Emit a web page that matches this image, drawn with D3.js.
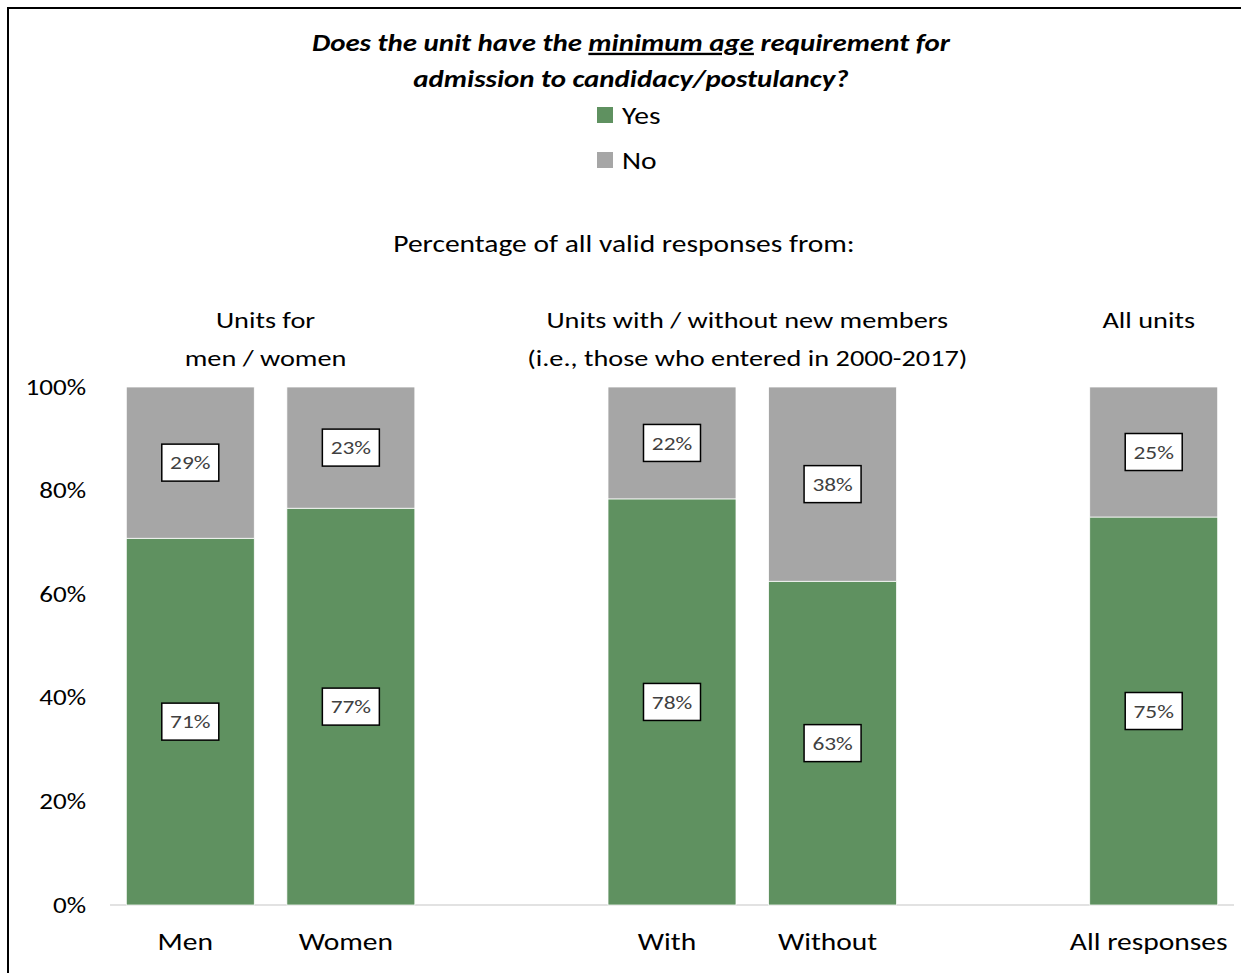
<!DOCTYPE html>
<html>
<head>
<meta charset="utf-8">
<script src="https://cdn.jsdelivr.net/npm/d3@7"></script>
<style>
  body { margin: 0; background: #fff; }
  text { font-family: Carlito, Calibri, "Open Sans", sans-serif; }
</style>
</head>
<body>
<div id="canvas"></div>
<script>
// data
const categories = ["Men", "Women", "With", "Without", "All responses"];
const yesValues = [70.8, 76.6, 78.4, 62.5, 74.9];
const noValues = [29.2, 23.4, 21.6, 37.5, 25.1];
const groupNames = [["Units for", "men / women"], ["Units with / without new members", "(i.e., those who entered in 2000-2017)"], ["All units"]];
const groupMembers = [["Men", "Women"], ["With", "Without"], ["All responses"]];
const seriesNames = ["Yes", "No"];
const yTicks = [0, 20, 40, 60, 80, 100];

const colors = { Yes: "#5f9160", No: "#a6a6a6" };

// the original chart is stretched sideways, text included
const SX = 1.23;

const width = 1241;
const height = 973;
const margin = { top: 387, left: 110, bottom: 68, right: 7 };
const iwidth = width - margin.left - margin.right;
const iheight = height - margin.top - margin.bottom;

const svg = d3.select("#canvas").append("svg")
    .attr("width", width)
    .attr("height", height);

// put a text at (px, py) stretched by SX
function wideText(parent, px, py, size) {
    return parent.append("g")
        .attr("transform", `translate(${px},${py}) scale(${SX},1)`)
        .append("text")
        .attr("font-size", size);
}

// frame (runs off the right/bottom edge in the original)
svg.append("rect")
    .attr("x", 8).attr("y", 8)
    .attr("width", 1300).attr("height", 1100)
    .attr("fill", "none")
    .attr("stroke", "#000")
    .attr("stroke-width", 2);

// slots: groups separated by an empty slot
let slots = [];
groupMembers.forEach((m, i) => {
    if (i > 0) slots.push("gap" + i);
    slots = slots.concat(m);
});

const x = d3.scaleBand()
    .domain(slots)
    .range([0, iwidth])
    .paddingInner(0.203)
    .paddingOuter(0.1015);

const y = d3.scaleLinear()
    .domain([0, 100])
    .range([iheight, 0]);

const g = svg.append("g").attr("transform", `translate(${margin.left},${margin.top})`);

const rows = categories.map((c, i) => ({ name: c, Yes: yesValues[i], No: noValues[i] }));
const stacked = d3.stack().keys(seriesNames)(rows);

// baseline
g.append("line")
    .attr("x1", 0).attr("x2", iwidth)
    .attr("y1", y(0)).attr("y2", y(0))
    .attr("stroke", "#d9d9d9")
    .attr("stroke-width", 1.5);

const layers = g.selectAll(".layer").data(stacked).enter().append("g")
    .attr("class", "layer")
    .attr("fill", d => colors[d.key]);

layers.selectAll("rect").data(d => d).enter().append("rect")
    .attr("x", d => x(d.data.name))
    .attr("y", d => y(d[1]))
    .attr("width", x.bandwidth())
    .attr("height", d => y(d[0]) - y(d[1]))
    .attr("stroke", "#ffffff")
    .attr("stroke-width", 0.75);

// data labels
stacked.forEach(layer => {
    layer.forEach(d => {
        const cx = x(d.data.name) + x.bandwidth() / 2;
        const cy = (y(d[0]) + y(d[1])) / 2;
        g.append("rect")
            .attr("x", cx - 28.5).attr("y", cy - 18.5)
            .attr("width", 57).attr("height", 37)
            .attr("fill", "#fff")
            .attr("stroke", "#000")
            .attr("stroke-width", 1.5);
        wideText(g, cx, cy, 19)
            .attr("text-anchor", "middle")
            .attr("dy", "0.36em")
            .attr("fill", "#404040")
            .text(Math.round(d[1] - d[0]) + "%");
    });
});

// y axis
const yAxis = g.append("g")
    .call(d3.axisLeft(y).tickValues(yTicks).tickSize(0).tickPadding(24).tickFormat(d => d + "%"));
yAxis.select(".domain").remove();
yAxis.selectAll("text")
    .attr("font-size", 22).attr("fill", "#000").style("font-family", null)
    .attr("x", -24 / SX)
    .attr("transform", `scale(${SX},1)`);

// x axis labels
const xAxis = g.append("g")
    .attr("transform", `translate(0,${iheight})`)
    .call(d3.axisBottom(x).tickSize(0).tickPadding(28).tickFormat(d => d.startsWith("gap") ? "" : d));
xAxis.select(".domain").remove();
xAxis.selectAll("text")
    .attr("font-size", 24).attr("fill", "#000").style("font-family", null)
    .attr("dx", -5 / SX)
    .attr("transform", `scale(${SX},1)`);

// group headers
groupMembers.forEach((m, i) => {
    const x0 = x(m[0]);
    const x1 = x(m[m.length - 1]) + x.bandwidth();
    const t = wideText(g, (x0 + x1) / 2 - 5, 0, 23)
        .attr("text-anchor", "middle")
        .attr("fill", "#000");
    groupNames[i].forEach((line, j) => {
        t.append("tspan")
            .attr("x", 0)
            .attr("y", -59 + j * 38)
            .text(line);
    });
});

// subtitle
wideText(svg, 624, 252, 24)
    .attr("text-anchor", "middle")
    .text("Percentage of all valid responses from:");

// title
const title = wideText(svg, 631, 0, 23.5)
    .attr("text-anchor", "middle")
    .attr("font-weight", "bold")
    .attr("font-style", "italic");
const l1 = title.append("tspan").attr("x", 0).attr("y", 51);
l1.append("tspan").text("Does the unit have the ");
l1.append("tspan").style("text-decoration", "underline").text("minimum age");
l1.append("tspan").text(" requirement for");
title.append("tspan").attr("x", 0).attr("y", 87).text("admission  to candidacy/postulancy?");

// legend
seriesNames.forEach((s, i) => {
    const yy = 107 + i * 45;
    svg.append("rect").attr("x", 597).attr("y", yy).attr("width", 16).attr("height", 16).attr("fill", colors[s]);
    wideText(svg, 622, yy + 17, 24).text(s);
});
</script>
</body>
</html>
